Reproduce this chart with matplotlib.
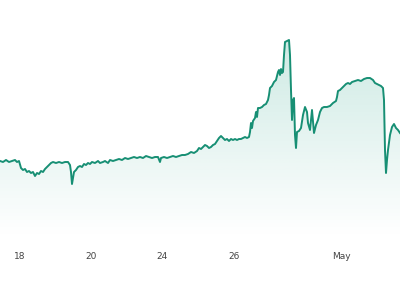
import numpy as np
import matplotlib
matplotlib.use('Agg')
import matplotlib.pyplot as plt
from matplotlib.colors import to_rgb

# bar index (x) and price level (y, arbitrary units)
bar = [-20, -17, -14, -11, -8, -5, -3, -1, 1, 3, 5, 7, 9, 11, 13, 15, 17, 19, 21, 23,
       25, 27, 29, 31, 33, 36, 39, 42, 45, 48, 50, 51, 52, 53, 54, 56, 58, 60, 62, 64,
       66, 68, 70, 72, 75, 78, 80, 83, 85, 88, 90, 93, 96, 99, 102, 105, 108, 111, 114, 117,
       120, 123, 126, 129, 132, 135, 138, 140, 141, 144, 147, 150, 153, 156, 159, 162, 165, 168, 171, 174,
       177, 179, 181, 183, 185, 187, 189, 191, 193, 195, 197, 199, 201, 203, 205, 207, 209, 211, 213, 215,
       217, 219, 221, 223, 225, 227, 229, 230, 231, 232, 233, 235, 236, 237, 238, 240, 242, 244, 246, 248,
       249, 250, 252, 254, 256, 257, 258, 259, 260, 261, 262, 263, 264, 265, 267, 269, 270, 271, 272, 273,
       274, 275, 276, 277, 279, 281, 283, 285, 287, 288, 290, 292, 294, 296, 298, 300, 302, 304, 307, 310,
       313, 316, 317, 318, 320, 322, 324, 326, 328, 330, 332, 335, 338, 341, 344, 347, 350, 353, 355, 357,
       359, 361, 363, 364, 365, 366, 367, 368, 370, 372, 374, 376, 378, 380]
price = [77, 76, 78, 76, 77, 78, 76, 77, 70, 68, 69, 66, 67, 65, 66, 62, 65, 64, 67, 66,
         69, 71, 73, 75, 76, 75, 76, 75, 76, 76, 73, 66, 54, 60, 66, 68, 71, 72, 71, 74,
         73, 75, 74, 76, 75, 77, 75, 76, 77, 75, 78, 77, 78, 79, 78, 80, 79, 80, 81, 80,
         81, 80, 82, 81, 80, 81, 81, 76, 80, 81, 80, 81, 82, 81, 82, 83, 83, 84, 86, 85,
         87, 90, 89, 91, 93, 92, 90, 91, 93, 94, 97, 100, 102, 100, 98, 99, 97, 99, 98, 99,
         98, 99, 99, 100, 101, 100, 101, 106, 115, 110, 117, 120, 126, 121, 130, 130, 131, 133, 134, 138,
         143, 150, 152, 156, 158, 162, 166, 168, 163, 169, 165, 166, 183, 196, 197, 198, 183, 148, 118, 138,
         140, 103, 90, 106, 107, 110, 123, 131, 126, 115, 108, 128, 105, 113, 118, 126, 130, 131, 131, 132,
         135, 137, 141, 147, 148, 150, 152, 154, 155, 154, 156, 157, 158, 157, 159, 160, 160, 158, 155, 154,
         153, 152, 150, 138, 88, 65, 78, 88, 103, 111, 114, 110, 108, 105]

tick_pos = [0, 71, 142, 214, 321]
tick_labels = ['18', '20', '24', '26', 'May']

line_color = '#178f74'

fig = plt.figure(figsize=(4, 3), dpi=100)
ax = fig.add_axes([0, 1 - 238 / 300, 1, 238 / 300])

x = np.array(bar, dtype=float)
y = np.array(price, dtype=float)

ax.set_xlim(-20, 380)
ax.set_ylim(0, 238)

# gradient fill under the line, clipped to the area polygon
poly = ax.fill_between(x, y, 0, color='none', lw=0)
rgb = to_rgb('#1b9e82')
grad = np.zeros((256, 1, 4))
grad[:, 0, :3] = rgb
grad[:, 0, 3] = np.linspace(0.0, 0.26, 256)
img = ax.imshow(grad, aspect='auto', origin='lower', extent=[-20, 380, 0, 238], zorder=1)
clip = poly.get_paths()[0]
img.set_clip_path(clip, transform=ax.transData)

ax.plot(x, y, color=line_color, lw=1.4, zorder=2, solid_joinstyle='round')

for s in ax.spines.values():
    s.set_visible(False)
ax.set_yticks([])
ax.set_xticks(tick_pos)
ax.set_xticklabels(tick_labels, fontsize=6.5, color='#444444')
ax.tick_params(axis='x', length=0, pad=10)

fig.savefig('out.png', dpi=100, facecolor='white')
